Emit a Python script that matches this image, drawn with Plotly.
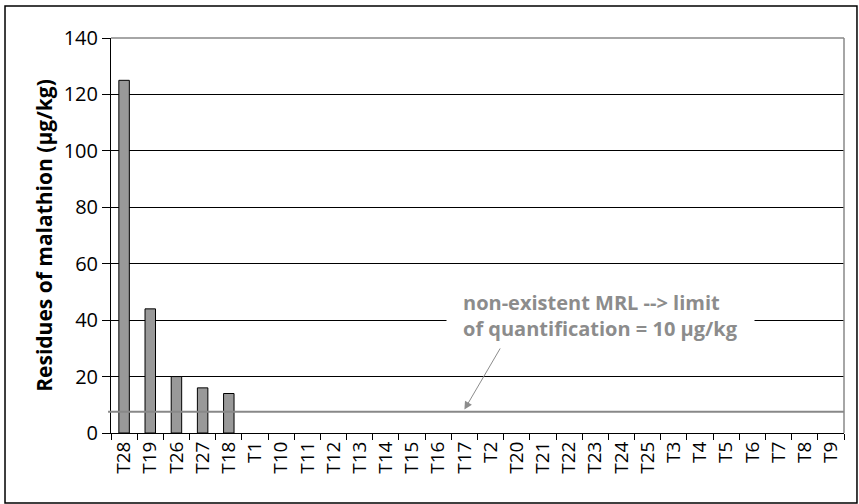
import plotly.graph_objects as go

categories = ["T28", "T19", "T26", "T27", "T18", "T1", "T10", "T11", "T12", "T13",
              "T14", "T15", "T16", "T17", "T2", "T20", "T21", "T22", "T23", "T24",
              "T25", "T3", "T4", "T5", "T6", "T7", "T8", "T9"]
residues = [125, 44, 20, 16, 14, 0, 0, 0, 0, 0,
            0, 0, 0, 0, 0, 0, 0, 0, 0, 0,
            0, 0, 0, 0, 0, 0, 0, 0]
mrl_line_value = 7.5
y_ticks = [0, 20, 40, 60, 80, 100, 120, 140]

FONT = "Open Sans"
GRAY = "#8c8c8c"

fig = go.Figure()
fig.add_trace(go.Bar(
    x=categories, y=residues,
    marker=dict(color="#999999",
                line=dict(color="#000000", width=[1 if v > 0 else 0 for v in residues])),
    showlegend=False,
))

fig.update_layout(
    width=859, height=504,
    margin=dict(l=111, r=15, t=38, b=71),
    paper_bgcolor="white", plot_bgcolor="white",
    bargap=0.6,
    font=dict(family=FONT, size=19, color="#000000"),
    xaxis=dict(
        type="category", tickangle=-90, ticks="outside", ticklen=6,
        tickson="boundaries", tickcolor="#000", showline=True, linecolor="#000",
        linewidth=1, showgrid=False, tickfont=dict(size=19),
    ),
    yaxis=dict(
        range=[0, 140], tickvals=y_ticks, ticks="outside", ticklen=8,
        tickcolor="#000", showline=True, linecolor="#000", linewidth=1,
        showgrid=True, gridcolor="#000", gridwidth=1, zeroline=False,
        tickfont=dict(size=20),
        title=dict(text="<b>Residues of malathion (µg/kg)</b>",
                   font=dict(size=21), standoff=5),
    ),
)

# plot border (top and right) in gray
fig.add_shape(type="line", xref="paper", yref="paper", x0=0, x1=1, y0=1, y1=1,
              line=dict(color="#888888", width=1.5))
fig.add_shape(type="line", xref="paper", yref="paper", x0=1, x1=1, y0=0, y1=1,
              line=dict(color="#888888", width=1.5))

# MRL / LOQ line
fig.add_shape(type="line", xref="paper", yref="y", x0=-0.004, x1=1,
              y0=mrl_line_value, y1=mrl_line_value,
              line=dict(color="#888888", width=2))

# annotation text
fig.add_annotation(
    x=18.2, y=41.8, xref="x", yref="y",
    text="<b>non-existent MRL --> limit<br>of quantification = 10 µg/kg</b>",
    showarrow=False, align="left", bgcolor="white",
    font=dict(size=20, color=GRAY, family=FONT),
    borderpad=16,
)
# arrow
fig.add_annotation(
    x=13.0, y=8.3, xref="x", yref="y",
    ax=14.4, ay=30.5, axref="x", ayref="y",
    text="", showarrow=True, arrowhead=2, arrowsize=1.6, arrowwidth=1,
    arrowcolor=GRAY,
)

# outer frame
fig.add_shape(type="rect", xref="paper", yref="paper",
              x0=-0.1446, x1=1.0177, y0=-0.177, y1=1.081,
              line=dict(color="#000000", width=1.5))

fig.write_html("out.html", config={"displayModeBar": False},
               post_script="document.body.style.margin='0';")
